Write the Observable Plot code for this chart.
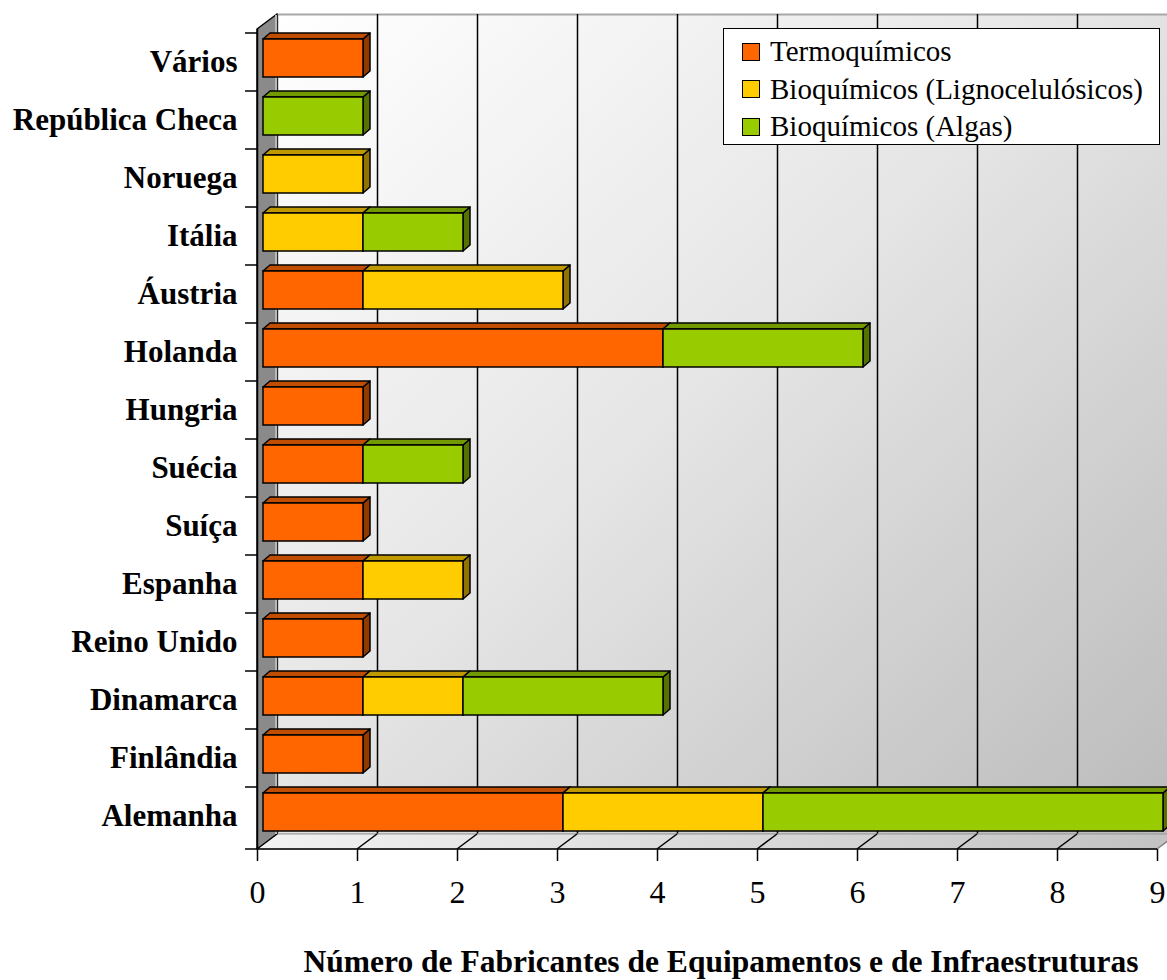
<!DOCTYPE html>
<html><head><meta charset="utf-8">
<script src="https://cdn.jsdelivr.net/npm/d3@7"></script>
<script src="https://cdn.jsdelivr.net/npm/@observablehq/plot@0.6"></script>
<style>
body{margin:0;background:#fff;}
#wrap{position:relative;width:1167px;height:980px;overflow:hidden;font-family:'Liberation Serif','Times New Roman',serif;color:#000;}
#legend{position:absolute;left:723px;top:28px;width:435px;height:115px;border:1.5px solid #000;background:#fff;box-sizing:content-box;}
.item{position:absolute;left:18px;height:37px;display:flex;align-items:center;font-size:29px;white-space:nowrap;}
.sw{width:16px;height:16px;border:1.5px solid #000;margin-right:10px;flex:none;}
#title{position:absolute;left:721px;top:944px;transform:translateX(-50%);font-size:31.5px;font-weight:bold;white-space:nowrap;line-height:36px;}
</style></head><body><div id="wrap"></div>
<script>
const categories = ["Vários","República Checa","Noruega","Itália","Áustria","Holanda","Hungria","Suécia","Suíça","Espanha","Reino Unido","Dinamarca","Finlândia","Alemanha"];
const series = ["Termoquímicos","Bioquímicos (Lignocelulósicos)","Bioquímicos (Algas)"];
const termoquimicos    = [1,0,0,0,1,4,1,1,1,1,1,1,1,3];
const lignocelulosicos = [0,0,1,1,2,0,0,0,0,1,0,1,0,2];
const algas            = [0,1,0,1,0,2,0,1,0,0,0,2,0,4];
const xTicks = [0,1,2,3,4,5,6,7,8,9];
const colors = ["#FF6600","#FFCC00","#99CC00"];
const axisTitle = "Número de Fabricantes de Equipamentos e de Infraestruturas";

const data = [];
[termoquimicos, lignocelulosicos, algas].forEach((vals, s) =>
  vals.forEach((v, i) => { if (v > 0) data.push({country: categories[i], type: series[s], value: v}); }));

const DX = 20, DY = -15;   // depth of the 3D box
const BDX = 7, BDY = -6;   // depth of each bar

const plot = Plot.plot({
  width: 1167, height: 930,
  marginLeft: 257, marginRight: 10, marginTop: 29, marginBottom: 81,
  style: {fontFamily: "'Liberation Serif','Times New Roman',serif", background: "transparent", color: "#000"},
  x: {domain: [0, 9]},
  y: {domain: categories, padding: 0},
  color: {domain: series, range: colors},
  marks: [
    Plot.frame({fill: "url(#wallGrad)", stroke: "#a8a8a8", strokeWidth: 2, dx: DX, dy: DY}),
    Plot.ruleX(xTicks.slice(1, -1), {stroke: "#000", strokeWidth: 1.5, dx: DX, dy: DY}),
    Plot.barX(data, {x: "value", y: "country", fill: "type", stroke: "#000", strokeWidth: 1.5, insetTop: 6, insetBottom: 14, dx: 6}),
    Plot.axisX({ticks: xTicks, tickSize: 12, tickPadding: 19, fontSize: 32, label: null, strokeWidth: 1.5}),
    Plot.axisY({tickSize: 0, tickPadding: 20, fontSize: 31, fontWeight: "bold", label: null}),
    Plot.ruleX([0], {stroke: "#000", strokeWidth: 1.5})
  ]
});

const wrap = document.getElementById("wrap");
wrap.appendChild(plot);

const svg = d3.select(plot);
const xs = plot.scale("x"), ys = plot.scale("y");
const x0 = xs.apply(0), x9 = xs.apply(9);
const yt = Math.min(...ys.range), yb = Math.max(...ys.range);

const defs = svg.insert("defs", ":first-child");
const wg = defs.append("linearGradient").attr("id", "wallGrad").attr("x1", 0).attr("y1", 0).attr("x2", 1).attr("y2", 1);
wg.append("stop").attr("offset", "0%").attr("stop-color", "#ffffff");
wg.append("stop").attr("offset", "45%").attr("stop-color", "#e6e6e6");
wg.append("stop").attr("offset", "100%").attr("stop-color", "#bababa");
const fg = defs.append("linearGradient").attr("id", "floorGrad").attr("x1", 0).attr("y1", 0).attr("x2", 1).attr("y2", 0);
fg.append("stop").attr("offset", "0%").attr("stop-color", "#f2f2f2");
fg.append("stop").attr("offset", "100%").attr("stop-color", "#c2c2c2");

const barNode = svg.select('g[aria-label="bar"]').node();
const box = d3.create("svg:g").attr("class", "box3d");
// floor
box.append("polygon")
  .attr("points", [[x0, yb], [x9, yb], [x9 + DX, yb + DY], [x0 + DX, yb + DY]].map(p => p.join(",")).join(" "))
  .attr("fill", "url(#floorGrad)").attr("stroke", "#9a9a9a").attr("stroke-width", 1);
xTicks.slice(1).forEach(t => {
  const x = xs.apply(t);
  box.append("line").attr("x1", x).attr("y1", yb).attr("x2", x + DX).attr("y2", yb + DY)
    .attr("stroke", t === 9 ? "#888" : "#000").attr("stroke-width", 1.5);
});
// left wall
box.append("polygon")
  .attr("points", [[x0, yt], [x0 + DX, yt + DY], [x0 + DX, yb + DY], [x0, yb]].map(p => p.join(",")).join(" "))
  .attr("fill", "#8a8a8a").attr("stroke", "#000").attr("stroke-width", 1.5).attr("stroke-linejoin", "round");
box.append("line").attr("x1", x0 + DX - 1).attr("y1", yt + DY + 1).attr("x2", x0 + DX - 1).attr("y2", yb + DY)
  .attr("stroke", "#b8b8b8").attr("stroke-width", 2);
// bottom axis line
box.append("line").attr("x1", x0).attr("y1", yb).attr("x2", x9).attr("y2", yb).attr("stroke", "#000").attr("stroke-width", 1.5);
// category boundary ticks
categories.map(c => ys.apply(c)).concat([yb]).forEach(y => {
  box.append("line").attr("x1", x0 - 12).attr("y1", y).attr("x2", x0).attr("y2", y).attr("stroke", "#000").attr("stroke-width", 1.5);
});
plot.insertBefore(box.node(), barNode);

// 3D faces of the bars, derived from the rendered bars
const sr = plot.getBoundingClientRect();
const rects = Array.from(barNode.querySelectorAll("rect")).map(r => {
  const b = r.getBoundingClientRect();
  return {x1: b.left - sr.left, x2: b.right - sr.left, y1: b.top - sr.top, y2: b.bottom - sr.top, fill: r.getAttribute("fill")};
});
const faces = d3.create("svg:g").attr("class", "faces").attr("stroke", "#000").attr("stroke-width", 1.5).attr("stroke-linejoin", "round");
rects.forEach(r => {
  faces.append("polygon")
    .attr("points", [[r.x2, r.y1], [r.x2 + BDX, r.y1 + BDY], [r.x2 + BDX, r.y2 + BDY], [r.x2, r.y2]].map(p => p.join(",")).join(" "))
    .attr("fill", d3.color(r.fill).darker(1.6));
});
rects.forEach(r => {
  faces.append("polygon")
    .attr("points", [[r.x1, r.y1], [r.x2, r.y1], [r.x2 + BDX, r.y1 + BDY], [r.x1 + BDX, r.y1 + BDY]].map(p => p.join(",")).join(" "))
    .attr("fill", d3.color(r.fill).darker(0.8));
});
plot.insertBefore(faces.node(), barNode);

// legend
const legend = document.createElement("div");
legend.id = "legend";
series.forEach((s, i) => {
  const it = document.createElement("div");
  it.className = "item";
  it.style.top = (4 + i * 37.5) + "px";
  const sw = document.createElement("span");
  sw.className = "sw"; sw.style.background = colors[i];
  it.appendChild(sw);
  it.appendChild(document.createTextNode(s));
  legend.appendChild(it);
});
wrap.appendChild(legend);

const title = document.createElement("div");
title.id = "title";
title.textContent = axisTitle;
wrap.appendChild(title);
</script>
</body></html>
